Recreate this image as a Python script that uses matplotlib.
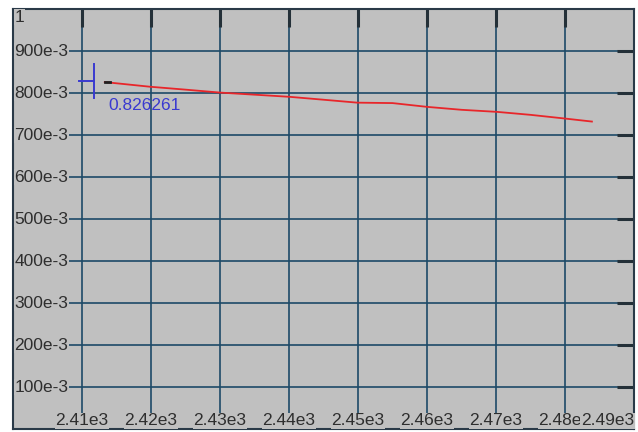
import matplotlib
matplotlib.use('Agg')
import matplotlib.pyplot as plt
import matplotlib.transforms as mtransforms

plt.rcParams['font.family'] = ['Liberation Sans', 'DejaVu Sans']

# data
freq = [2413.3, 2419.8, 2425, 2430, 2435, 2440, 2445, 2449.9, 2455,
        2460, 2465, 2470.2, 2475, 2480.1, 2483.9]
mag = [0.826, 0.815, 0.808, 0.801, 0.796, 0.791, 0.784, 0.777, 0.776,
       0.767, 0.760, 0.755, 0.748, 0.739, 0.732]

x_ticks = [2410, 2420, 2430, 2440, 2450, 2460, 2470, 2480, 2490]
x_labels = ['2.41e3', '2.42e3', '2.43e3', '2.44e3', '2.45e3', '2.46e3',
            '2.47e3', '2.48e3', '2.49e3']
y_ticks = [0.1, 0.2, 0.3, 0.4, 0.5, 0.6, 0.7, 0.8, 0.9, 1.0]
y_labels = ['100e-3', '200e-3', '300e-3', '400e-3', '500e-3', '600e-3',
            '700e-3', '800e-3', '900e-3', '1']

cursor_x = 2411.8
cursor_y = 0.826261

bg = '#c0c0c0'
grid_col = '#1d4a68'
txt_col = '#2e2e2e'

fig = plt.figure(figsize=(6.38, 4.32), dpi=100)
ax = fig.add_axes([13 / 638, 3 / 432, 621 / 638, 420 / 432])
ax.set_facecolor(bg)
ax.set_xlim(2400, 2490)
ax.set_ylim(0, 1.0)

ax.set_xticks(x_ticks[:-1])
ax.set_yticks(y_ticks[:-1])
ax.grid(True, color=grid_col, linewidth=1.2)
ax.set_axisbelow(True)
ax.tick_params(axis='x', bottom=False, top=True, labelbottom=False,
               direction='in', length=13, width=2.2, color='#243038')
ax.tick_params(axis='y', left=False, right=True, labelleft=False,
               direction='in', length=12, width=2.2, color='#243038')
for s in ax.spines.values():
    s.set_color('#2a3a48')
    s.set_linewidth(1.5)

# tick labels drawn inside the plot
xt = mtransforms.blended_transform_factory(ax.transData, ax.transAxes)
for i, (v, lab) in enumerate(zip(x_ticks, x_labels)):
    ha = 'right' if i == len(x_ticks) - 1 else 'center'
    ax.text(v, 0.002, lab, transform=xt, ha=ha, va='bottom', fontsize=12.5,
            color=txt_col, zorder=5 + i,
            bbox=dict(facecolor=bg, edgecolor='none', pad=0.4))

yt = mtransforms.blended_transform_factory(ax.transAxes, ax.transData)
for v, lab in zip(y_ticks, y_labels):
    va = 'top' if v == 1.0 else 'center'
    yy = 0.998 if v == 1.0 else v
    ax.text(0.002, yy, lab, transform=yt, ha='left', va=va, fontsize=12.5,
            color=txt_col, zorder=5,
            bbox=dict(facecolor=bg, edgecolor='none', pad=0.4))

ax.plot(freq, mag, color='#e8262a', linewidth=1.3, zorder=3)
ax.plot(freq[:1] + [freq[0] + 0.8], mag[:1] * 2, color='#202020',
        linewidth=2, zorder=4)

# cursor marker
ax.plot([cursor_x, cursor_x], [0.789, 0.868], color='#3a3ad0', linewidth=1.4, zorder=4)
ax.plot([2409.6, cursor_x], [0.828, 0.828], color='#3a3ad0', linewidth=1.4, zorder=4)
ax.text(2413.8, 0.788, '0.826261', ha='left', va='top', fontsize=12.5,
        color='#3a3ad0', zorder=6)

fig.savefig('out.png', dpi=100, facecolor='white')
